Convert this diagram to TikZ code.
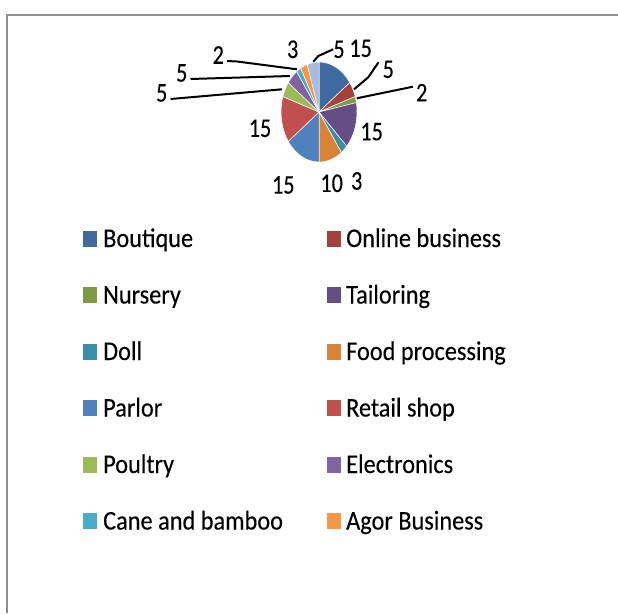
\documentclass[tikz,border=0pt]{standalone}
\usepackage{fontspec}
\setmainfont{Carlito}[FakeStretch=0.9, FakeBold=0.15]
\newfontfamily\lblfont{Carlito}[FakeStretch=0.82, FakeBold=0.15]
\definecolor{cBoutique}{HTML}{3E6AA0}
\definecolor{cOnline}{HTML}{A4403D}
\definecolor{cNursery}{HTML}{7E9B44}
\definecolor{cTailoring}{HTML}{654D86}
\definecolor{cDoll}{HTML}{3A8FA5}
\definecolor{cFood}{HTML}{D98338}
\definecolor{cParlor}{HTML}{4F81BD}
\definecolor{cRetail}{HTML}{C0504D}
\definecolor{cPoultry}{HTML}{9BBB59}
\definecolor{cElec}{HTML}{8064A2}
\definecolor{cCane}{HTML}{4BACC6}
\definecolor{cAgor}{HTML}{F79646}
\definecolor{cOther}{HTML}{A9BCDF}
\definecolor{framegray}{HTML}{8E8E8E}
\tikzset{
  lbl/.style={font=\lblfont\fontsize{27}{27}\selectfont, inner sep=0pt, anchor=center},
  legtext/.style={font=\fontsize{27}{27}\selectfont, inner sep=0pt, anchor=base west},
  legkey/.style={inner sep=0pt, minimum width=14pt, minimum height=16pt, anchor=south west},
  leader/.style={line width=2pt, black},
  slice/.style={draw=white, line width=0.5pt}
}
\begin{document}
\begin{tikzpicture}[x=1pt,y=-1pt]
\useasboundingbox (0,0) rectangle (618,613);
\fill[white] (0,0) rectangle (618,613);
\draw[framegray, line width=2pt] (6.5,613) -- (6.5,15) -- (618,15);
% pie
\begin{scope}[shift={(319,112)}, x=38pt, y=50pt]
\foreach \a/\b/\c in {0/54/cBoutique, 54/72/cOnline, 72/79.2/cNursery, 79.2/133.2/cTailoring,
  133.2/144/cDoll, 144/180/cFood, 180/234/cParlor, 234/288/cRetail, 288/306/cPoultry,
  306/324/cElec, 324/331.2/cCane, 331.2/342/cAgor, 342/360/cOther}{
  \filldraw[slice, fill=\c] (0,0) -- ({90-\a}:1) arc[start angle={90-\a}, end angle={90-\b}, radius=1] -- cycle;
}
\end{scope}
% data labels
\node[lbl] (lBoutique) at (360.7,48.3) {15};
\node[lbl] (lOther) at (339,49.3) {5};
\node[lbl] (lAgor) at (292.7,49.3) {3};
\node[lbl] (lCane) at (218.3,55) {2};
\node[lbl] (lElec) at (181.7,73) {5};
\node[lbl] (lPoultry) at (161.7,93) {5};
\node[lbl] (lOnline) at (388.3,69.3) {5};
\node[lbl] (lNursery) at (421.7,92.7) {2};
\node[lbl] (lTailoring) at (371.7,131.7) {15};
\node[lbl] (lDoll) at (356.7,181) {3};
\node[lbl] (lFood) at (331.7,183.3) {10};
\node[lbl] (lParlor) at (283.3,185) {15};
\node[lbl] (lRetail) at (260,128.3) {15};
% leader lines
\coordinate (pOther) at (313.3,61.7);
\coordinate (pCane) at (297,69.3);
\coordinate (pElec) at (290,76);
\coordinate (pPoultry) at (282,89.3);
\coordinate (pOnline) at (354,89.3);
\coordinate (pNursery) at (356.7,98.3);
\draw[leader] (pOther) -- (318.3,56) -- (lOther.west);
\draw[leader] (lCane.east) ++(3,6) -- ++(10,0.5) -- (pCane);
\draw[leader] (lElec.east) ++(3,6) -- (pElec);
\draw[leader] (lPoultry.east) ++(3,6) -- (pPoultry);
\draw[leader] (pOnline) -- (368.3,77.3) -- ([xshift=-4pt,yshift=7pt]lOnline.west);
\draw[leader] (pNursery) -- ([xshift=-3pt,yshift=6pt]lNursery.west);
% legend
\foreach \i/\nm/\c/\t in {0/Boutique/cBoutique/Boutique, 1/Nursery/cNursery/Nursery, 2/Doll/cDoll/Doll,
  3/Parlor/cParlor/Parlor, 4/Poultry/cPoultry/Poultry, 5/Cane/cCane/Cane and bamboo}{
  \node[legkey, fill=\c] (k\nm) at (83,{247+56.5*\i}) {};
  \node[legtext] (t\nm) at (103,{247+56.5*\i}) {\t};
}
\foreach \i/\nm/\c/\t in {0/Online/cOnline/Online business, 1/Tailoring/cTailoring/Tailoring, 2/Food/cFood/Food processing,
  3/Retail/cRetail/Retail shop, 4/Elec/cElec/Electronics, 5/Agor/cAgor/Agor Business}{
  \node[legkey, fill=\c] (k\nm) at (327,{247+56.5*\i}) {};
  \node[legtext] (t\nm) at (346,{247+56.5*\i}) {\t};
}
\end{tikzpicture}
\end{document}
